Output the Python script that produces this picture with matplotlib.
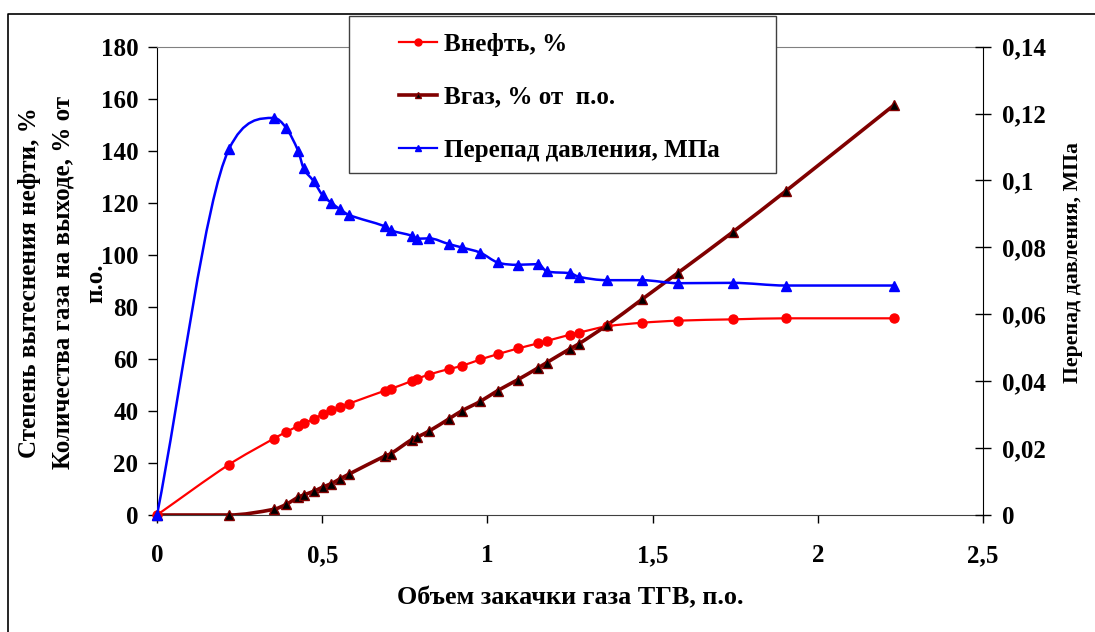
import numpy as np
import matplotlib
matplotlib.use("Agg")
import matplotlib.pyplot as plt
from matplotlib.path import Path
from matplotlib.patches import PathPatch, Rectangle
from matplotlib.lines import Line2D
from matplotlib.ticker import FuncFormatter

# injected gas volume, pore volumes (shared by all three series)
pv_injected = [0, 0.218, 0.354, 0.391, 0.427, 0.444, 0.474, 0.501, 0.528, 0.554, 0.581,
               0.690, 0.708, 0.771, 0.788, 0.824, 0.883, 0.922, 0.979, 1.031, 1.092,
               1.154, 1.180, 1.250, 1.277, 1.361, 1.469, 1.577, 1.743, 1.903, 2.230]

# oil displacement, %
oil_recovery = [0, 19.4, 29.4, 31.9, 34.2, 35.2, 36.9, 38.7, 40.2, 41.5, 42.8,
                47.8, 48.5, 51.5, 52.4, 54.0, 56.1, 57.3, 59.8, 61.8, 64.0,
                66.0, 66.9, 69.3, 70.1, 72.5, 73.9, 74.7, 75.2, 75.6, 75.6]

# gas at outlet, % of pore volume
gas_out = [0, 0, 2.2, 4.1, 6.8, 7.7, 9.1, 10.7, 12.1, 13.9, 15.7,
           22.7, 23.6, 29.0, 30.0, 32.3, 36.9, 40.0, 43.7, 47.8, 52.0,
           56.6, 58.6, 63.9, 65.8, 72.9, 83.0, 93.1, 108.8, 124.5, 157.5]

# pressure drop, MPa
pressure_drop = [0, 0.1094, 0.1187, 0.1157, 0.1089, 0.1036, 0.0998, 0.0956, 0.0933, 0.0914, 0.0897,
                 0.0863, 0.0851, 0.0835, 0.0826, 0.0827, 0.0810, 0.0800, 0.0784, 0.0755, 0.0748,
                 0.0750, 0.0728, 0.0723, 0.0712, 0.0702, 0.0702, 0.0693, 0.0694, 0.0686, 0.0686]

labels = ["Внефть, %", "Вгаз, % от  п.о.", "Перепад давления, МПа"]

RED, DARKRED, BLUE = "#FF0000", "#800000", "#0000FF"

plt.rcParams["font.family"] = ["Liberation Serif", "DejaVu Serif"]
plt.rcParams["font.weight"] = "bold"
plt.rcParams["axes.labelweight"] = "bold"
plt.rcParams["font.size"] = 18


def smooth_line(ax, x, y, **kw):
    """Smoothed line through the points (monotone cubic, drawn as a Bezier path)."""
    x = np.asarray(x, float)
    y = np.asarray(y, float)
    n = len(x)
    d = np.diff(y) / np.diff(x)
    m = np.empty(n)
    m[0], m[-1] = d[0], d[-1]
    m[1:-1] = (y[2:] - y[:-2]) / (x[2:] - x[:-2])
    for i in range(n - 1):
        if d[i] == 0:
            m[i] = m[i + 1] = 0
            continue
        if i > 0 and np.sign(d[i]) != np.sign(d[i - 1]):
            m[i] = 0
        a, b = m[i] / d[i], m[i + 1] / d[i]
        if a < 0:
            m[i], a = 0, 0
        if b < 0:
            m[i + 1], b = 0, 0
        r = a * a + b * b
        if r > 9:
            t = 3 / np.sqrt(r)
            m[i], m[i + 1] = t * a * d[i], t * b * d[i]
    verts = [(x[0], y[0])]
    codes = [Path.MOVETO]
    for i in range(n - 1):
        dx = (x[i + 1] - x[i]) / 3
        verts += [(x[i] + dx, y[i] + m[i] * dx),
                  (x[i + 1] - dx, y[i + 1] - m[i + 1] * dx),
                  (x[i + 1], y[i + 1])]
        codes += [Path.CURVE4] * 3
    ax.add_patch(PathPatch(Path(verts, codes), facecolor="none", **kw))


fig = plt.figure(figsize=(10.95, 6.32), dpi=100)
ax = fig.add_axes([157 / 1095, 1 - 515 / 632, 826 / 1095, 468.3 / 632])
ax2 = ax.twinx()

smooth_line(ax, pv_injected, oil_recovery, edgecolor=RED, lw=1.6, zorder=3)
ax.plot(pv_injected, oil_recovery, ls="none", marker="o", ms=6.5, color=RED,
        clip_on=False, zorder=4)
smooth_line(ax, pv_injected, gas_out, edgecolor=DARKRED, lw=2.6, zorder=3)
ax.plot(pv_injected, gas_out, ls="none", marker="^", ms=7, mfc="black", mec=DARKRED,
        mew=1, clip_on=False, zorder=4)
smooth_line(ax2, pv_injected, pressure_drop, edgecolor=BLUE, lw=1.8, zorder=3)
ax2.plot(pv_injected, pressure_drop, ls="none", marker="^", ms=6.5, color=BLUE,
         clip_on=False, zorder=4)

ax.set_xlim(0, 2.5)
ax.set_ylim(0, 180)
ax2.set_ylim(0, 0.14)
ax.set_xticks(np.arange(0, 2.51, 0.5))
ax.set_yticks(np.arange(0, 181, 20))
ax2.set_yticks(np.arange(0, 0.141, 0.02))

comma = FuncFormatter(lambda v, _: f"{round(v, 4):g}".replace(".", ","))
ax.xaxis.set_major_formatter(comma)
ax2.yaxis.set_major_formatter(comma)

ax.tick_params(axis="x", direction="out", length=6, width=1, pad=15)
ax.tick_params(axis="y", direction="out", length=6.5, width=1, pad=7)
ax2.tick_params(axis="y", direction="inout", length=11, width=1, pad=8)

for s in ["top", "left", "bottom"]:
    ax2.spines[s].set_visible(False)
ax.spines["right"].set_visible(False)
ax.spines["top"].set_color("#808080")
ax.spines["bottom"].set_color("#404040")
ax.spines["left"].set_color("black")
ax2.spines["right"].set_color("black")

ax.set_xlabel("Объем закачки газа ТГВ, п.о.", fontsize=18.8)
ax.xaxis.set_label_coords(0.5, -0.153)
ax2.set_ylabel("Перепад давления, МПа", fontsize=15.7)
ax2.yaxis.set_label_coords(1.097, 0.54)

fig.text(63 / 1095, 1 - 283 / 632,
         "Степень вытеснения нефти, %\nКоличества газа на выходе, % от\nп.о.",
         rotation=90, ha="center", va="center", multialignment="center", linespacing=1.56)

# legend box
fig.add_artist(Rectangle((349 / 1095, 1 - 173 / 632), 427 / 1095, 157 / 632,
                         transform=fig.transFigure, facecolor="white",
                         edgecolor="#404040", lw=1, zorder=2))
handles = [
    Line2D([], [], color=RED, lw=1.6, marker="o", ms=5),
    Line2D([], [], color=DARKRED, lw=2.6, marker="^", ms=5, mfc="black", mec=DARKRED),
    Line2D([], [], color=BLUE, lw=1.6, marker="^", ms=5),
]
fig.legend(handles, labels, loc="upper left", bbox_to_anchor=(399 / 1095, 1 - 33 / 632),
           bbox_transform=fig.transFigure, frameon=False, borderpad=0, borderaxespad=0,
           handlelength=1.5, handletextpad=0.3, labelspacing=1.19)

# outer chart border (left and top edges visible)
fig.add_artist(Line2D([8 / 1095, 8 / 1095, 1.0], [0, 1 - 14 / 632, 1 - 14 / 632],
                      transform=fig.transFigure, color="black", lw=1.2))

fig.savefig("out.png", dpi=100, facecolor="white")
